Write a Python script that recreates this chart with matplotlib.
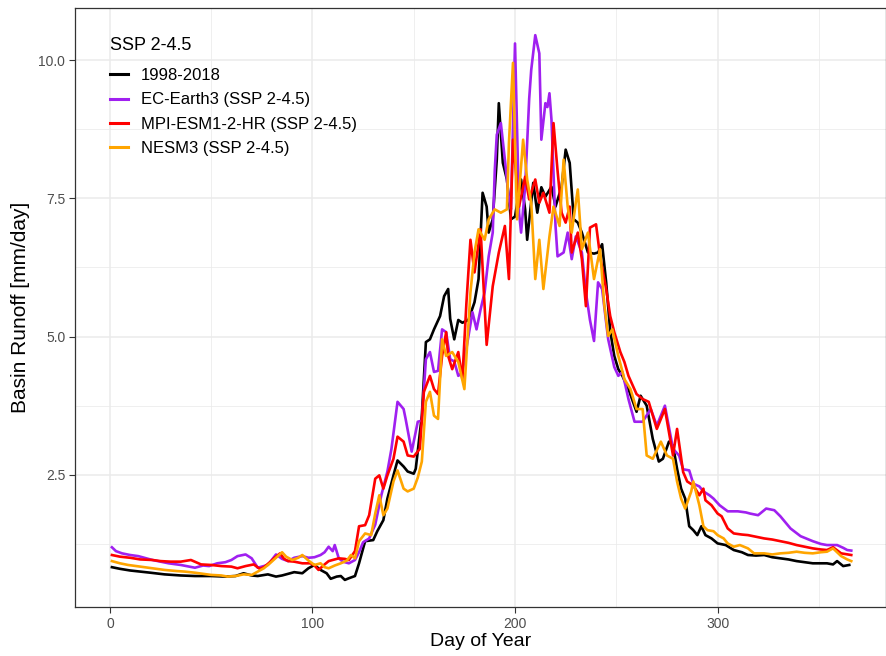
import numpy as np
import matplotlib
matplotlib.use("Agg")
from matplotlib import pyplot as plt

plt.rcParams['font.family'] = ['Liberation Sans', 'DejaVu Sans']

# daily mean basin runoff [mm/day], (day of year, value)
obs_1998_2018 = [
    (1, 0.83), (5, 0.80), (10, 0.77), (15, 0.75), (20, 0.73), (27, 0.70), (35, 0.68), (42, 0.67),
    (50, 0.67), (57, 0.66), (62, 0.67), (66, 0.72), (70, 0.68), (73, 0.67), (78, 0.70), (82, 0.66),
    (85, 0.68), (91, 0.74), (95, 0.72), (98, 0.81), (101, 0.87), (104, 0.78), (107, 0.72), (109, 0.62),
    (112, 0.66), (114, 0.67), (116, 0.60), (118, 0.63), (121, 0.67), (123, 0.90), (126, 1.30), (130, 1.32),
    (132, 1.48), (135, 1.68), (137, 2.07), (140, 2.49), (142, 2.76), (145, 2.65), (147, 2.56), (150, 2.52),
    (151, 2.61), (154, 3.57), (156, 4.90), (158, 4.95), (160, 5.13), (163, 5.37), (165, 5.73), (167, 5.86),
    (168, 5.32), (170, 4.95), (172, 5.30), (174, 5.25), (177, 5.30), (180, 5.62), (182, 6.04), (184, 7.60),
    (186, 7.35), (187, 6.88), (189, 7.12), (191, 8.20), (192, 9.22), (194, 8.14), (196, 7.84), (198, 7.12),
    (200, 7.17), (203, 7.84), (205, 7.30), (206, 6.75), (209, 7.78), (211, 7.24), (213, 7.70), (215, 7.53),
    (218, 7.71), (220, 7.35), (223, 7.71), (225, 8.38), (227, 8.14), (229, 7.12), (231, 7.06), (233, 6.88),
    (236, 6.52), (239, 6.50), (241, 6.52), (243, 6.67), (245, 5.98), (247, 5.10), (249, 4.65), (251, 4.41),
    (253, 4.29), (256, 4.05), (260, 3.64), (262, 3.93), (265, 3.75), (268, 3.15), (271, 2.74), (273, 2.79),
    (276, 3.10), (278, 3.03), (280, 2.61), (282, 2.25), (284, 2.07), (286, 1.57), (288, 1.50), (290, 1.41),
    (292, 1.57), (294, 1.41), (297, 1.35), (300, 1.26), (304, 1.23), (308, 1.14), (312, 1.10), (315, 1.05),
    (319, 1.04), (323, 1.05), (327, 1.01), (331, 0.99), (335, 0.97), (339, 0.94), (343, 0.92), (347, 0.90),
    (351, 0.90), (354, 0.90), (357, 0.88), (359, 0.94), (362, 0.85), (365, 0.87),
]

ec_earth3 = [
    (1, 1.19), (3, 1.12), (6, 1.08), (10, 1.05), (14, 1.03), (18, 0.99), (21, 0.96), (25, 0.93),
    (29, 0.90), (35, 0.87), (42, 0.82), (46, 0.86), (49, 0.85), (53, 0.90), (57, 0.92), (60, 0.96),
    (63, 1.03), (67, 1.06), (70, 0.99), (73, 0.82), (76, 0.85), (78, 0.87), (82, 1.06), (85, 0.98),
    (88, 0.94), (91, 1.00), (95, 1.03), (98, 1.00), (101, 1.01), (104, 1.05), (106, 1.10), (108, 1.20),
    (110, 1.12), (111, 1.23), (113, 0.99), (115, 0.93), (118, 0.90), (121, 0.96), (123, 1.10), (125, 1.28),
    (128, 1.35), (131, 1.60), (134, 2.13), (137, 2.56), (139, 2.97), (142, 3.82), (145, 3.69), (146, 3.51),
    (149, 2.92), (150, 3.10), (152, 3.46), (154, 3.48), (156, 4.59), (158, 4.72), (160, 4.36), (162, 4.38),
    (164, 5.13), (166, 5.08), (168, 4.59), (170, 4.55), (172, 4.29), (174, 4.35), (177, 5.00), (179, 5.44),
    (181, 5.13), (183, 5.49), (185, 5.80), (187, 6.45), (189, 6.88), (190, 8.00), (191, 8.65), (193, 8.86),
    (195, 8.20), (197, 7.48), (198, 7.30), (200, 10.30), (202, 7.24), (203, 6.88), (205, 7.71), (207, 9.30),
    (208, 9.82), (210, 10.45), (212, 10.12), (213, 8.56), (215, 9.22), (216, 9.15), (217, 9.40), (218, 8.92),
    (220, 7.00), (221, 6.45), (224, 6.52), (226, 6.88), (228, 6.40), (230, 6.81), (233, 6.52), (235, 5.80),
    (237, 5.30), (239, 4.92), (241, 5.98), (243, 5.86), (246, 4.95), (249, 4.45), (251, 4.29), (253, 4.36),
    (256, 3.87), (259, 3.46), (263, 3.46), (267, 3.69), (270, 3.39), (274, 3.75), (278, 2.97), (281, 2.85),
    (283, 2.60), (286, 2.58), (288, 2.34), (291, 2.29), (293, 2.20), (296, 2.13), (298, 2.07), (301, 1.95),
    (305, 1.84), (310, 1.84), (314, 1.82), (316, 1.80), (320, 1.77), (324, 1.89), (328, 1.86), (331, 1.75),
    (336, 1.53), (341, 1.39), (347, 1.30), (351, 1.25), (354, 1.23), (359, 1.23), (362, 1.18), (364, 1.14),
    (366, 1.13),
]

mpi_esm1_2_hr = [
    (1, 1.05), (5, 1.02), (10, 1.00), (15, 0.97), (21, 0.96), (25, 0.94), (30, 0.93), (35, 0.93),
    (40, 0.96), (45, 0.88), (50, 0.87), (55, 0.85), (60, 0.84), (63, 0.81), (67, 0.85), (71, 0.88),
    (74, 0.80), (76, 0.83), (79, 0.92), (81, 0.99), (84, 1.08), (86, 0.98), (88, 0.94), (91, 0.93),
    (95, 0.90), (99, 0.90), (101, 0.86), (103, 0.78), (106, 0.88), (108, 0.94), (111, 0.97), (113, 0.99),
    (116, 0.98), (118, 0.96), (121, 1.12), (123, 1.57), (126, 1.59), (128, 1.77), (131, 2.43), (133, 2.49),
    (135, 2.25), (137, 2.49), (140, 2.79), (142, 3.19), (145, 3.10), (147, 2.85), (150, 2.83), (153, 2.97),
    (155, 4.00), (158, 4.29), (160, 4.05), (162, 3.96), (164, 4.65), (166, 5.08), (167, 4.65), (169, 4.41),
    (172, 4.72), (174, 4.23), (176, 5.60), (178, 6.75), (180, 6.16), (183, 6.94), (186, 4.85), (189, 5.91),
    (192, 6.52), (195, 7.00), (197, 6.04), (199, 8.56), (202, 7.35), (205, 7.89), (207, 7.48), (210, 7.84),
    (212, 7.42), (214, 7.60), (217, 7.24), (219, 8.86), (221, 8.00), (223, 7.24), (225, 7.06), (227, 7.35),
    (228, 6.52), (231, 6.88), (233, 6.40), (235, 5.55), (237, 6.97), (240, 7.03), (242, 6.45), (245, 5.86),
    (247, 5.37), (249, 5.08), (252, 4.72), (254, 4.54), (256, 4.29), (260, 3.96), (263, 3.87), (266, 3.82),
    (270, 3.33), (274, 3.69), (278, 2.85), (280, 3.33), (283, 2.55), (285, 2.38), (288, 2.31), (291, 2.13),
    (293, 2.25), (294, 2.04), (297, 1.95), (300, 1.80), (302, 1.75), (305, 1.53), (308, 1.44), (312, 1.42),
    (315, 1.41), (319, 1.38), (323, 1.35), (327, 1.33), (331, 1.30), (335, 1.27), (339, 1.23), (343, 1.20),
    (347, 1.17), (351, 1.15), (354, 1.14), (357, 1.19), (361, 1.08), (366, 1.05),
]

nesm3 = [
    (1, 0.94), (5, 0.90), (9, 0.87), (15, 0.84), (21, 0.81), (27, 0.78), (33, 0.76), (37, 0.75),
    (42, 0.73), (46, 0.71), (50, 0.69), (55, 0.68), (58, 0.66), (62, 0.67), (66, 0.70), (70, 0.69),
    (73, 0.75), (76, 0.81), (79, 0.90), (82, 1.00), (85, 1.10), (87, 1.02), (90, 0.96), (93, 1.00),
    (95, 1.05), (98, 0.95), (101, 0.87), (104, 0.90), (106, 0.83), (108, 0.81), (111, 0.86), (114, 0.90),
    (117, 0.95), (119, 1.05), (121, 0.99), (123, 1.30), (126, 1.44), (129, 1.41), (131, 1.80), (133, 2.13),
    (135, 1.77), (137, 1.89), (140, 2.38), (142, 2.58), (145, 2.25), (147, 2.20), (150, 2.25), (152, 2.45),
    (154, 2.74), (156, 3.82), (158, 4.00), (160, 3.57), (162, 3.51), (164, 4.95), (166, 4.65), (169, 4.72),
    (172, 4.54), (175, 4.05), (178, 5.80), (180, 6.52), (182, 6.94), (185, 6.75), (187, 7.12), (190, 7.30),
    (193, 7.24), (196, 7.30), (197, 8.50), (199, 9.95), (201, 7.12), (204, 8.56), (206, 7.84), (208, 7.42),
    (210, 6.04), (212, 6.75), (214, 5.86), (217, 6.81), (219, 7.35), (222, 7.00), (224, 8.20), (226, 7.35),
    (228, 6.88), (230, 7.42), (231, 7.66), (233, 6.58), (236, 6.88), (239, 6.04), (242, 6.58), (244, 5.60),
    (246, 5.01), (248, 5.13), (251, 4.65), (254, 4.23), (257, 4.05), (260, 3.69), (263, 3.69), (265, 2.85),
    (268, 2.79), (272, 3.10), (275, 2.85), (278, 2.79), (280, 2.38), (282, 2.07), (284, 1.89), (287, 2.20),
    (288, 2.38), (291, 1.95), (293, 1.57), (295, 1.50), (298, 1.48), (300, 1.41), (303, 1.35), (305, 1.26),
    (308, 1.20), (311, 1.23), (315, 1.17), (318, 1.08), (323, 1.08), (327, 1.06), (331, 1.08), (335, 1.09),
    (339, 1.11), (343, 1.09), (347, 1.08), (351, 1.10), (354, 1.11), (357, 1.17), (361, 1.03), (364, 0.97),
    (366, 0.94),
]

series = [
    ("1998-2018", obs_1998_2018, "black"),
    ("EC-Earth3 (SSP 2-4.5)", ec_earth3, "#A020F0"),
    ("MPI-ESM1-2-HR (SSP 2-4.5)", mpi_esm1_2_hr, "#FF0000"),
    ("NESM3 (SSP 2-4.5)", nesm3, "#FFA500"),
]

x_ticks = [0, 100, 200, 300]
y_ticks = [2.5, 5.0, 7.5, 10.0]

fig = plt.figure(figsize=(8.87, 6.56), dpi=100)
ax = fig.add_axes([0.0846, 0.0747, 0.9144, 0.913])

for label, pts, col in series:
    d, v = zip(*pts)
    ax.plot(d, v, color=col, lw=1.9, label=label, solid_joinstyle='round')

# ggplot-like limits (5% padding around the data)
ax.set_xlim(-17.2, 383.2)
ax.set_ylim(0.11, 10.94)

ax.set_xticks(x_ticks)
ax.set_yticks(y_ticks)
ax.set_xticks([50, 150, 250, 350], minor=True)
ax.set_yticks([1.25, 3.75, 6.25, 8.75], minor=True)
ax.grid(which='major', color='#EBEBEB', lw=1.1)
ax.grid(which='minor', color='#EBEBEB', lw=0.55)
ax.set_axisbelow(True)
ax.tick_params(which='major', length=4, width=0.8, color='#333333', labelsize=10, labelcolor='#4D4D4D', pad=3)
ax.tick_params(which='minor', length=0)
for s in ax.spines.values():
    s.set_color('#333333')
    s.set_linewidth(0.9)

ax.set_xlabel("Day of Year", fontsize=14, labelpad=2)
ax.set_ylabel("Basin Runoff [mm/day]", fontsize=15, labelpad=6)

leg = ax.legend(title="SSP 2-4.5", loc='upper left', bbox_to_anchor=(0.025, 0.976), frameon=False,
                fontsize=12, title_fontsize=13, handlelength=1.05, handletextpad=0.8, labelspacing=0.55,
                borderpad=0.4)
leg._legend_box.align = "left"
leg._legend_box.sep = 10
for h in leg.get_lines():
    h.set_linewidth(2.2)

fig.savefig("out.png", dpi=100)
